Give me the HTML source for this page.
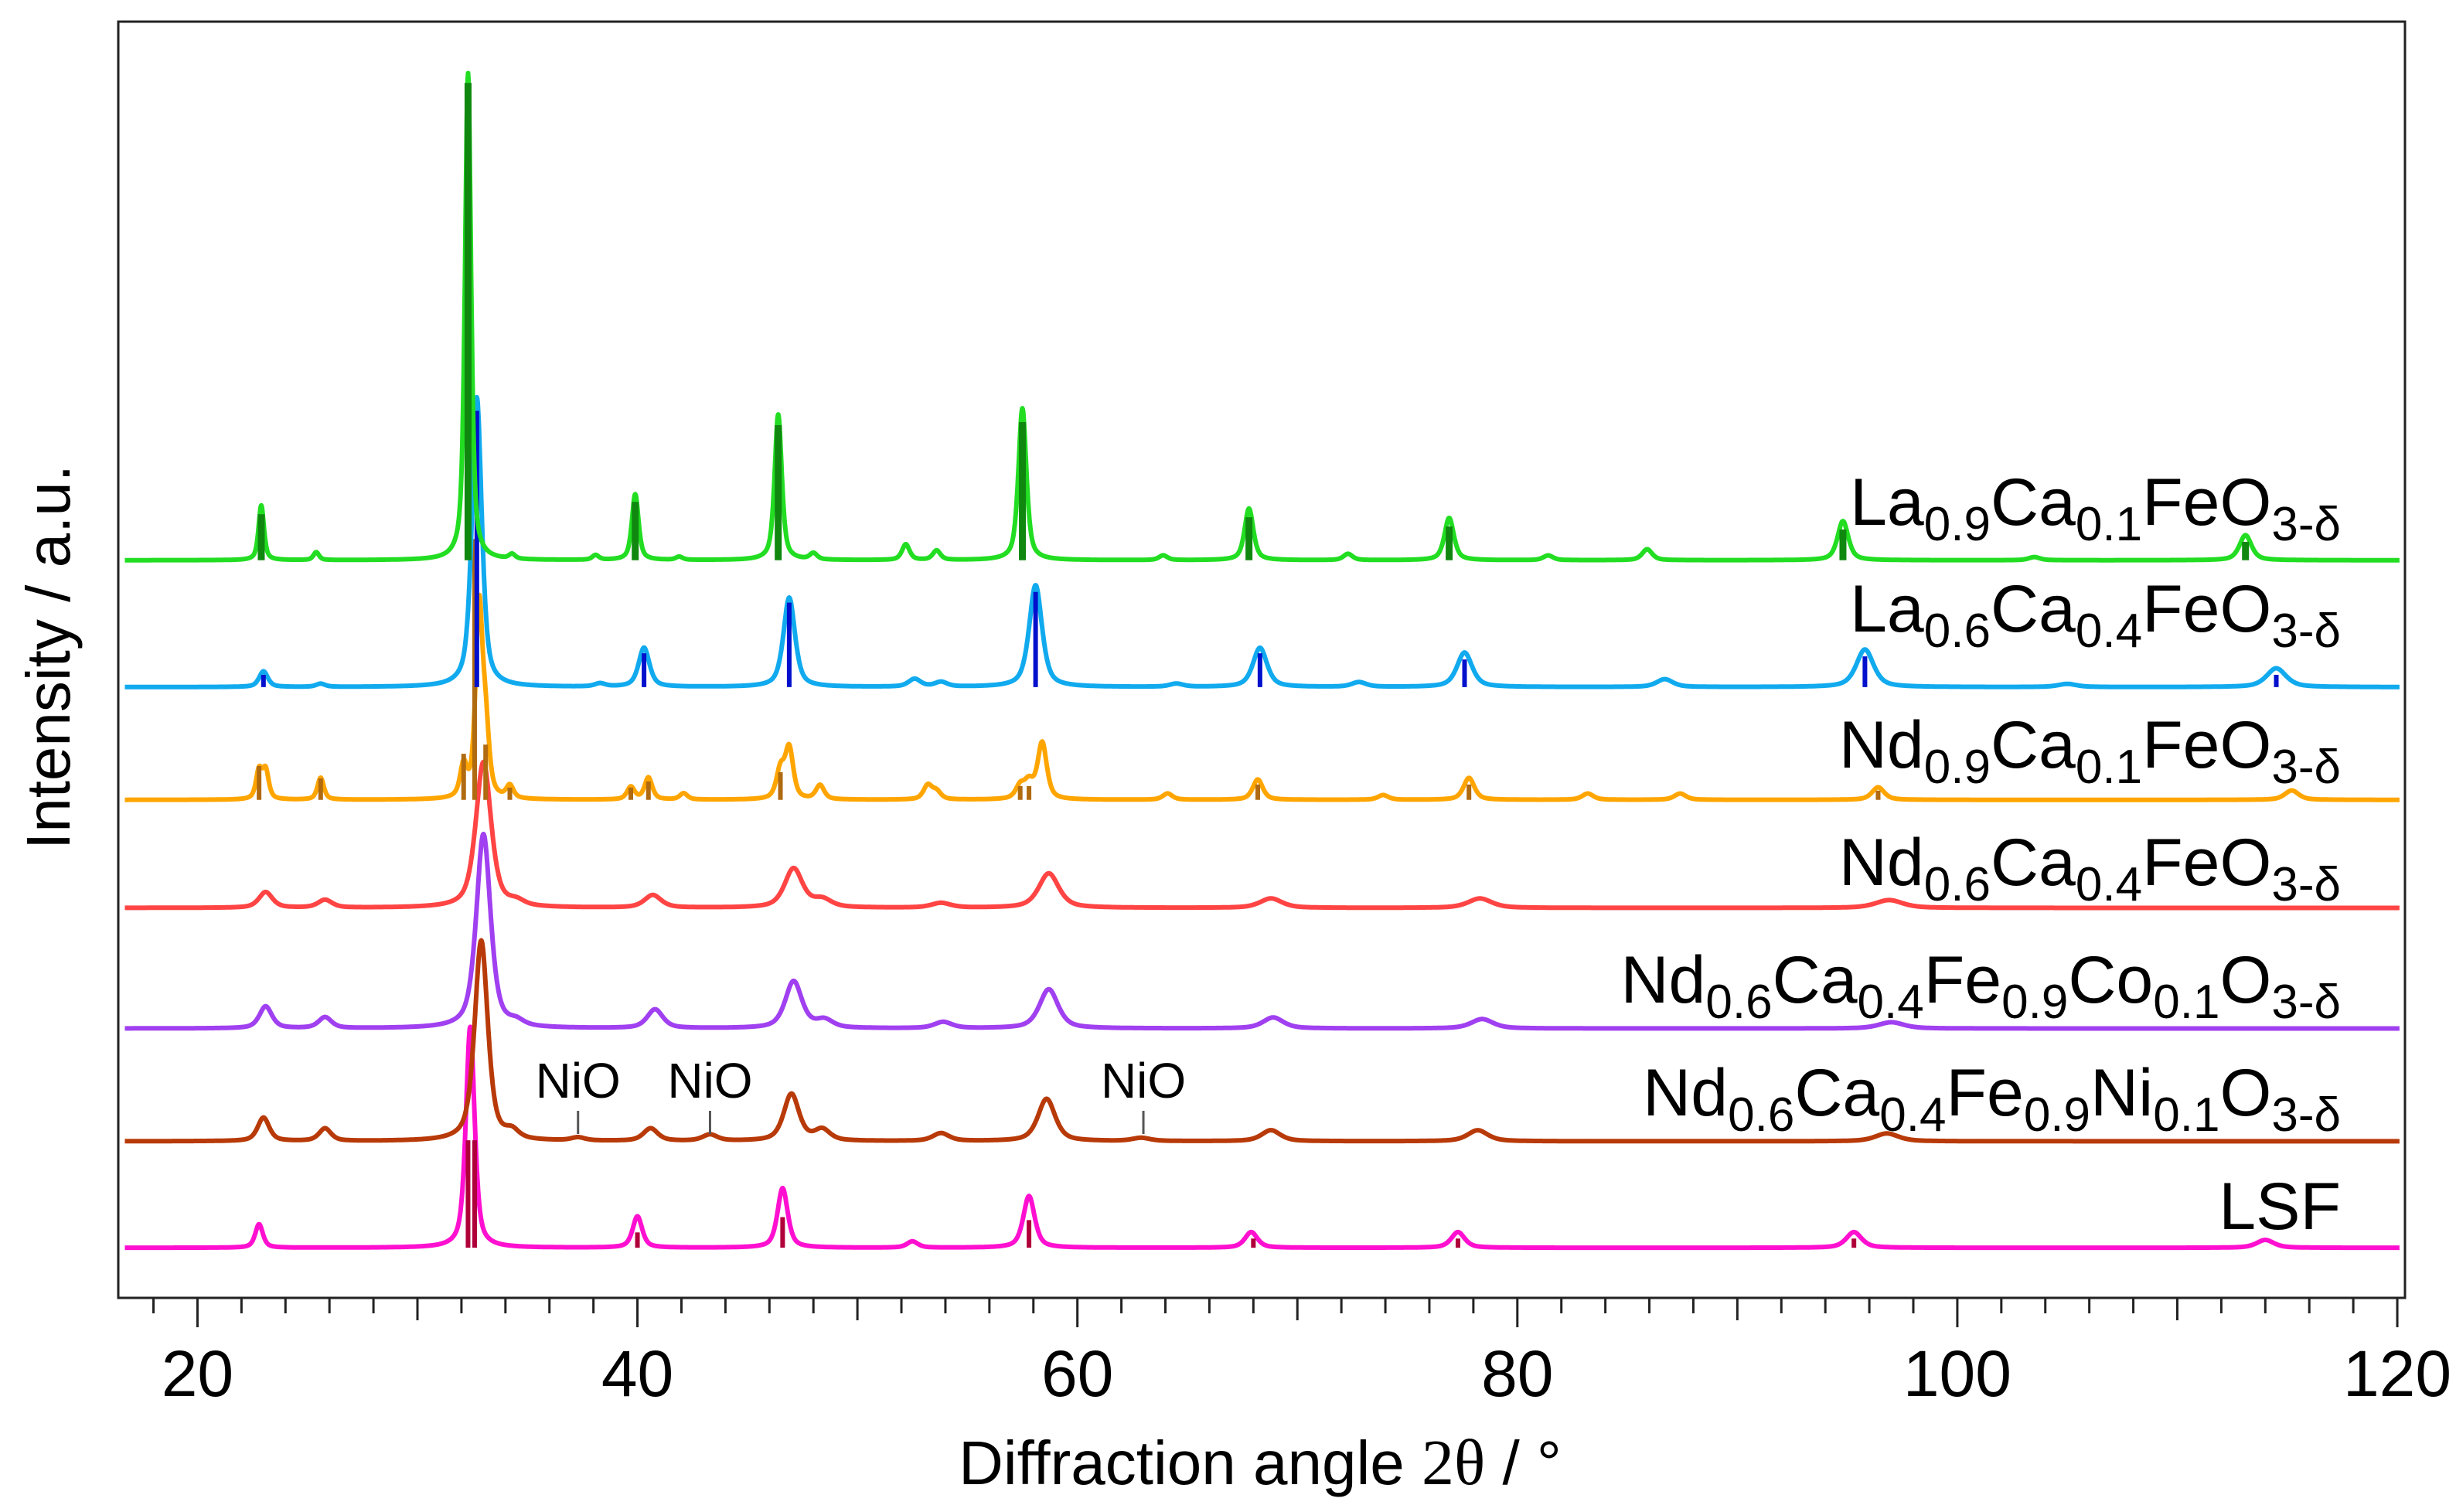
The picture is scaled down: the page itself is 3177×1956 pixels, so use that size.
<!DOCTYPE html>
<html><head><meta charset="utf-8">
<style>
html,body{margin:0;padding:0;background:#fff;}
svg{display:block;font-family:"Liberation Sans",sans-serif;}
</style></head>
<body>
<svg id="chart" width="3177" height="1956" viewBox="0 0 3177 1956" xmlns="http://www.w3.org/2000/svg">
<rect x="0" y="0" width="3177" height="1956" fill="#fff"/>
<g id="plot"></g>
<g id="axes"></g>
</svg>
<script>
// ---- data ----
const xTicks=[20,40,60,80,100,120];
const xTickLabels=["20","40","60","80","100","120"];
const seriesNames=["La0.9Ca0.1","La0.6Ca0.4","Nd0.9Ca0.1","Nd0.6Ca0.4","Nd0.6Ca0.4Co","Nd0.6Ca0.4Ni","LSF"];
const seriesColors=["#22dd22","#11aaee","#ffa500","#ff4444","#a040f0","#b83a08","#ff10d0"];
const barColors=["#108810","#0010cc","#b06a10",null,null,null,"#b0003a"];
const seriesOffsets=[471,390,318,249,172,100,32];
const seriesWidths=[0.28,0.45,0.32,0.7,0.65,0.6,0.4];
// peak positions (deg) and heights (a.u.)
const peakPos0=[22.9,25.4,32.3,34.3,38.1,39.9,41.9,46.4,48.0,52.2,53.6,57.5,63.9,67.8,72.3,76.9,81.4,85.9,94.8,103.5,113.1];
const peakH0=[35,5,311,3,3,42,2,93,4,10,6,97,3,33,4,27,3,7,25,2,16];
const peakPos1=[23.0,25.6,32.7,38.3,40.3,46.9,52.6,53.8,58.1,64.5,68.3,72.8,77.6,86.7,95.8,105,114.5];
const peakH1=[10,2,185,2,25,57,5,3,65,2,25,3,22,5,24,2,12];
const peakPos2=[22.8,23.1,25.6,32.1,32.8,33.1,34.2,39.7,40.5,42.1,46.5,46.9,48.3,53.2,53.6,57.4,57.8,58.4,64.1,68.2,73.9,77.8,83.2,87.4,96.4,115.2];
const peakH2=[18,18,14,20,120,40,8,8,14,4,18,32,9,9,5,8,10,36,4,13,3,14,4,4,8,6];
const peakPos3=[23.1,25.8,33.0,34.5,40.7,47.1,48.4,53.8,58.7,68.8,78.3,96.9];
const peakH3=[10,5,93,3,8,25,5,3,22,6,6,5];
const peakPos4=[23.1,25.8,33.0,34.5,40.8,47.1,48.5,53.9,58.7,68.9,78.4,97.0];
const peakH4=[14,7,124,3,12,30,5,4,25,7,6,4];
const peakPos5=[23.0,25.8,32.9,34.3,37.3,40.6,43.3,47.0,48.4,53.8,58.6,62.9,68.8,78.2,96.8];
const peakH5=[15,8,128,5,2,8,4,30,7,5,27,2,7,7,5];
const peakPos6=[22.8,32.4,40.0,46.6,52.5,57.8,67.9,77.3,95.3,114.0];
const peakH6=[15,141,20,38,4,33,10,10,10,5];
const barPos0=[22.9,32.3,39.9,46.4,57.5,67.8,76.9,94.8,113.1];
const barH0=[30,311,38,88,90,28,22,20,12];
const barPos1=[23.0,32.7,40.3,46.9,58.1,68.3,77.6,95.8,114.5];
const barH1=[8,180,22,55,62,22,18,20,8];
const barPos2=[22.8,25.6,32.1,32.6,33.1,34.2,39.7,40.5,46.5,57.4,57.8,68.2,77.8,96.4];
const barH2=[22,14,30,170,36,8,8,12,18,9,9,10,10,6];
const barPos6=[32.3,32.6,40.0,46.6,57.8,68.0,77.3,95.3];
const barH6=[70,70,10,20,18,6,6,6];
const nioPos=[37.3,43.3,63.0];
const labelLines=[
 [["La",""],["0.9","s"],["Ca",""],["0.1","s"],["FeO",""],["3-δ","s"]],
 [["La",""],["0.6","s"],["Ca",""],["0.4","s"],["FeO",""],["3-δ","s"]],
 [["Nd",""],["0.9","s"],["Ca",""],["0.1","s"],["FeO",""],["3-δ","s"]],
 [["Nd",""],["0.6","s"],["Ca",""],["0.4","s"],["FeO",""],["3-δ","s"]],
 [["Nd",""],["0.6","s"],["Ca",""],["0.4","s"],["Fe",""],["0.9","s"],["Co",""],["0.1","s"],["O",""],["3-δ","s"]],
 [["Nd",""],["0.6","s"],["Ca",""],["0.4","s"],["Fe",""],["0.9","s"],["Ni",""],["0.1","s"],["O",""],["3-δ","s"]],
 [["LSF",""]]
];
const labelY=[679,817,993,1145,1297,1443,1590];

const peakPos=[peakPos0,peakPos1,peakPos2,peakPos3,peakPos4,peakPos5,peakPos6];
const peakH=[peakH0,peakH1,peakH2,peakH3,peakH4,peakH5,peakH6];
const barPos=[barPos0,barPos1,barPos2,null,null,null,barPos6];
const barH=[barH0,barH1,barH2,null,null,null,barH6];

// ---- axes ----
const X0=16.4,X1=120.35,PX0=153,PX1=3111,PY0=28,PY1=1679;
const xs=v=>PX0+(v-X0)*(PX1-PX0)/(X1-X0);
const ys=v=>PY1-v*2.026;
const NS="http://www.w3.org/2000/svg";
function mk(tag,attrs,parent){const e=document.createElementNS(NS,tag);for(const k in attrs)e.setAttribute(k,attrs[k]);parent.appendChild(e);return e;}
const plot=document.getElementById('plot'),axes=document.getElementById('axes');

function intensity(s,x){
 let v=seriesOffsets[s];const P=peakPos[s],H=peakH[s];
 for(let i=0;i<P.length;i++){
  const w=seriesWidths[s]*(1+(P[i]-20)/70);
  const d=(x-P[i])/(w/2);
  v+=H[i]*(0.6/(1+d*d)+0.4*Math.exp(-0.693*d*d));
 }
 return v;
}
for(let s=seriesNames.length-1;s>=0;s--){
 const g=mk('g',{},plot);
 
 
 let d='';
 for(let x=16.7;x<=120.1;x+=0.02){d+=(d?'L':'M')+xs(x).toFixed(1)+','+ys(intensity(s,x)).toFixed(1);}
 const p=mk('path',{d:d,fill:'none',stroke:seriesColors[s],'stroke-width':6,'stroke-linejoin':'round'},g);
 
 
 if(barPos[s]){
  for(let i=0;i<barPos[s].length;i++){
   const x=xs(barPos[s][i]);
   const r=mk('line',{x1:x,x2:x,y1:ys(seriesOffsets[s]),y2:ys(seriesOffsets[s]+barH[s][i]*0.98),stroke:barColors[s],'stroke-width':s==0?9:6},g);
   
   
  }
 }
}
// labels
for(let s=0;s<labelLines.length;s++){
 const t=mk('text',{x:3028,y:labelY[s],'text-anchor':'end','font-size':86,fill:'#000'},plot);
 
 
 let shifted=false;
 for(const [txt,k] of labelLines[s]){
  const sp=mk('tspan',{},t);
  if(k==='s'){sp.setAttribute('font-size',62);sp.setAttribute('dy',20);shifted=true;}
  else{sp.setAttribute('dy',shifted?-20:0);shifted=false;}
  sp.textContent=txt;
 }
}
// NiO markers
for(let i=0;i<nioPos.length;i++){
 const x=xs(nioPos[i]);
 const l=mk('line',{x1:x,x2:x,y1:1437,y2:1467,stroke:'#555','stroke-width':3},plot);
 
 
 const t=mk('text',{x:x,y:1420,'text-anchor':'middle','font-size':64,fill:'#000'},plot);
 
 
 t.textContent='NiO';
}
// frame
const fr=mk('rect',{x:PX0,y:PY0,width:PX1-PX0,height:PY1-PY0,fill:'none',stroke:'#222','stroke-width':3},axes);


for(let v=18;v<=120;v+=2){
 const x=xs(v);const len=v%20===0?38:(v%10===0?29:20);
 const l=mk('line',{x1:x,x2:x,y1:PY1,y2:PY1+len,stroke:'#222','stroke-width':3},axes);
 
 
}
for(let i=0;i<xTicks.length;i++){
 const t=mk('text',{x:xs(xTicks[i]),y:1806,'text-anchor':'middle','font-size':84,fill:'#000'},axes);
 
 
 t.textContent=xTickLabels[i];
}
const xt=mk('text',{x:1630,y:1920,'text-anchor':'middle','font-size':80,fill:'#000'},axes);


xt.innerHTML='Diffraction angle <tspan font-family="Liberation Serif, serif" font-size="84">2θ</tspan>  / °';
const yt=mk('text',{x:0,y:0,'text-anchor':'middle','font-size':80,fill:'#000',transform:'translate(90,850) rotate(-90)'},axes);


yt.textContent='Intensity / a.u.';
</script>
</body></html>
